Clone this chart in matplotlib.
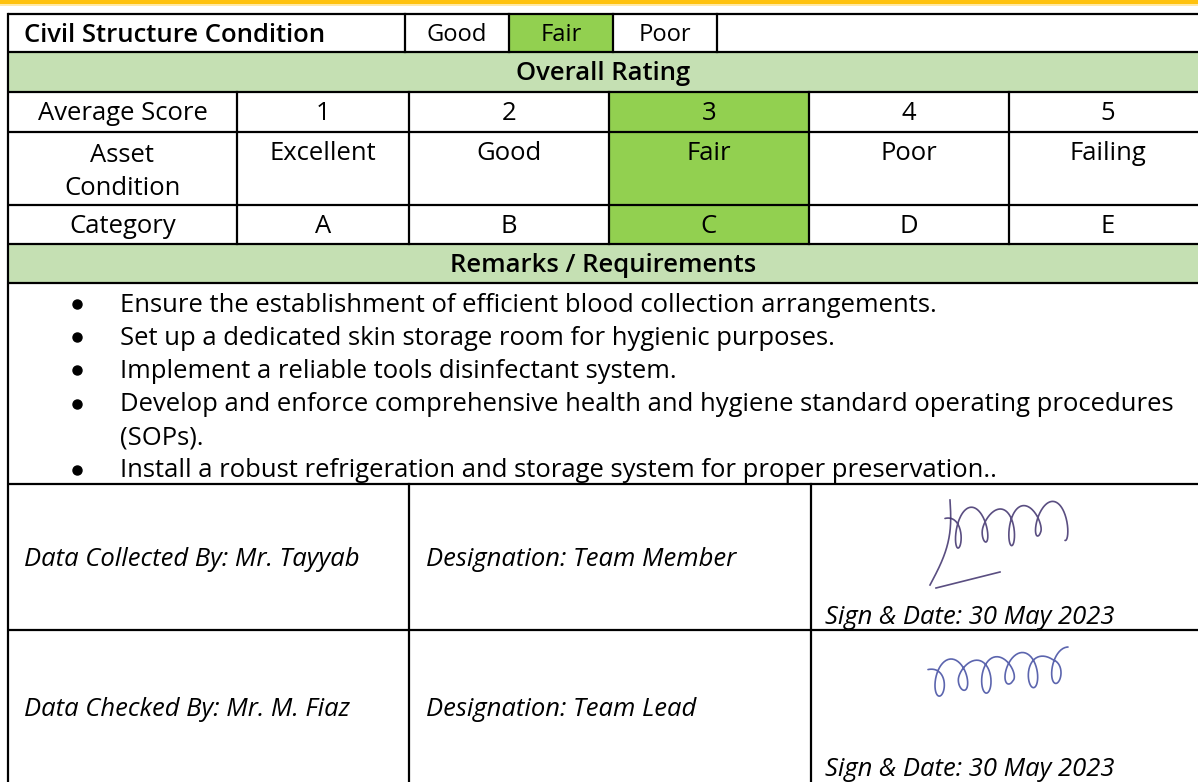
import numpy as np
import matplotlib
matplotlib.use("Agg")
import matplotlib.pyplot as plt
from matplotlib.patches import Rectangle

plt.rcParams['font.family'] = ['Open Sans', 'DejaVu Sans']

# Table content
title = "Civil Structure Condition"
header_options = ["Good", "Fair", "Poor"]
header_selected = "Fair"
row_labels = ["Average Score", "Asset\nCondition", "Category"]
scores = ["1", "2", "3", "4", "5"]
conditions = ["Excellent", "Good", "Fair", "Poor", "Failing"]
categories = ["A", "B", "C", "D", "E"]
selected_col = 2
remarks = [
    ["Ensure the establishment of efficient blood collection arrangements."],
    ["Set up a dedicated skin storage room for hygienic purposes."],
    ["Implement a reliable tools disinfectant system."],
    ["Develop and enforce comprehensive health and hygiene standard operating procedures", "(SOPs)."],
    ["Install a robust refrigeration and storage system for proper preservation.."],
]
collected_by = "Data Collected By: Mr. Tayyab"
collected_role = "Designation: Team Member"
checked_by = "Data Checked By: Mr. M. Fiaz"
checked_role = "Designation: Team Lead"
sign_date = "Sign & Date: 30 May 2023"

GREEN = "#92D050"
LIGHT = "#C5E0B3"
LW = 1.6

fig = plt.figure(figsize=(11.98, 7.82), dpi=100)
ax = fig.add_axes([0, 0, 1, 1])
ax.set_xlim(0, 1198)
ax.set_ylim(782, 0)
ax.axis("off")

# fit the font so the longest remark line spans like in the source (~1050 px)
renderer = fig.canvas.get_renderer()
probe = ax.text(0, 0, remarks[3][0], fontsize=10)
FS = 10 * 1050 / probe.get_window_extent(renderer).width
probe.remove()
DY = 2  # small nudge so text sits centred in the cells

# yellow strip at the top
ax.add_patch(Rectangle((0, 0), 1198, 4, color="#FFC20E", lw=0))
ax.add_patch(Rectangle((0, 4), 1198, 1.5, color="#FFE9A8", lw=0))

L, R = 8, 1210

# row 1: title and options
opt_x = [405, 509, 613, 717]
for i, opt in enumerate(header_options):
    if opt == header_selected:
        ax.add_patch(Rectangle((opt_x[i], 14), opt_x[i + 1] - opt_x[i], 38, color=GREEN, lw=0))
    ax.text((opt_x[i] + opt_x[i + 1]) / 2, 33 + DY, opt, ha="center", va="center", fontsize=FS * 0.93)
ax.text(24, 33 + DY, title, ha="left", va="center", fontsize=FS, fontweight="semibold")

# green header bands
ax.add_patch(Rectangle((L, 52), R - L, 40, color=LIGHT, lw=0))
ax.add_patch(Rectangle((L, 244), R - L, 39, color=LIGHT, lw=0))
ax.text(603, 72 + DY, "Overall Rating", ha="center", va="center", fontsize=FS, fontweight="semibold")
ax.text(603, 263 + DY, "Remarks / Requirements", ha="center", va="center", fontsize=FS,
        fontweight="semibold")

# rating grid
col_x = [8, 237, 409, 609, 809, 1009, R]
row_y = [92, 132, 205, 244]
ax.add_patch(Rectangle((col_x[selected_col + 1], row_y[0]),
                       col_x[selected_col + 2] - col_x[selected_col + 1],
                       row_y[-1] - row_y[0], color=GREEN, lw=0))
for j, vals in enumerate([scores, conditions, categories]):
    if j == 1:
        yc = 151
        ax.text((col_x[0] + col_x[1]) / 2, 170 + DY, row_labels[j], ha="center", va="center",
                fontsize=FS, linespacing=1.45)
    else:
        yc = (row_y[j] + row_y[j + 1]) / 2
        ax.text((col_x[0] + col_x[1]) / 2, yc + DY, row_labels[j], ha="center", va="center",
                fontsize=FS)
    for k, v in enumerate(vals):
        xc = (col_x[k + 1] + col_x[k + 2]) / 2
        if k == 4:
            xc = 1108
        ax.text(xc, yc + DY, v, ha="center", va="center", fontsize=FS)

# remarks bullets
y = 303
for item in remarks:
    ax.plot(77, y + 1, "o", color="black", ms=6.5)
    for line in item:
        ax.text(120, y + DY, line, ha="left", va="center", fontsize=FS)
        y += 33.2

# people rows
ax.text(24, 557 + DY, collected_by, ha="left", va="center", fontsize=FS, style="italic")
ax.text(426, 557 + DY, collected_role, ha="left", va="center", fontsize=FS, style="italic")
ax.text(825, 615 + DY, sign_date, ha="left", va="center", fontsize=FS, style="italic")
ax.text(24, 708 + DY, checked_by, ha="left", va="center", fontsize=FS, style="italic")
ax.text(426, 708 + DY, checked_role, ha="left", va="center", fontsize=FS, style="italic")
ax.text(825, 768 + DY, sign_date, ha="left", va="center", fontsize=FS, style="italic")


def scribble(x0, y0, w, h, loops, color, tilt=0.0):
    # loose cursive-like stroke used as a signature stand-in
    t = np.linspace(0, 1, 500)
    amp = 0.55 + 0.45 * np.abs(np.sin(np.pi * loops * t / 1.7))
    x = x0 + w * t + 0.07 * w * np.sin(2 * np.pi * loops * t)
    yy = y0 - h * 0.5 * np.cos(2 * np.pi * loops * t) * amp - tilt * w * t
    ax.plot(x, yy, color=color, lw=1.2, alpha=0.85, solid_capstyle="round")


sig1 = "#3d2f6b"
scribble(945, 530, 120, 42, 4.5, sig1, tilt=0.08)
t = np.linspace(0, 1, 200)
ax.plot(950 + 8 * np.sin(np.pi * t) - 20 * t, 500 + 85 * t, color=sig1, lw=1.2, alpha=0.85)
ax.plot([936, 1000], [588, 572], color=sig1, lw=1.2, alpha=0.85)

sig2 = "#3f4aa0"
scribble(928, 680, 140, 38, 6, sig2, tilt=0.1)

# grid lines
hl = [14, 52, 92, 132, 205, 244, 283, 484, 630]
for yy in hl:
    ax.plot([L, R], [yy, yy], color="black", lw=LW, solid_capstyle="butt")
ax.plot([L, L], [14, 790], color="black", lw=LW)
for xx in opt_x:
    ax.plot([xx, xx], [14, 52], color="black", lw=LW)
for xx in col_x[1:-1]:
    ax.plot([xx, xx], [92, 244], color="black", lw=LW)
for xx in [409, 811]:
    ax.plot([xx, xx], [484, 790], color="black", lw=LW)

fig.savefig("out.png", dpi=100)
